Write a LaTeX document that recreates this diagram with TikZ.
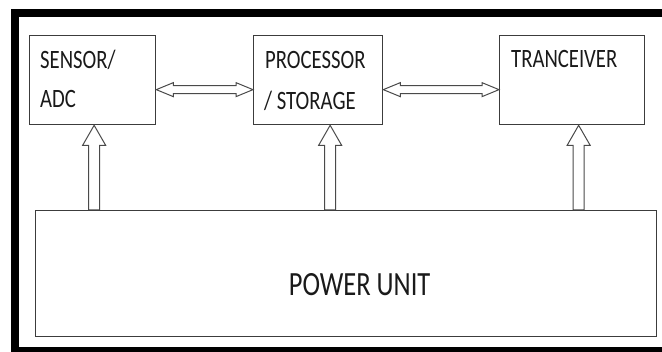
\documentclass[tikz,border=0pt]{standalone}
\usepackage{fontspec}
\setmainfont{Carlito}
\usetikzlibrary{calc}
\definecolor{boxgray}{HTML}{3C3C3C}
\definecolor{arrgray}{HTML}{4A4A4A}
\definecolor{txt}{HTML}{1A1A1A}
\newcommand{\vstr}[1]{\scalebox{1}[1.28]{#1}}
\begin{document}
\begin{tikzpicture}[x=1pt,y=-1pt,
  box/.style={draw=boxgray, line width=1.3pt, inner sep=0pt, anchor=north west},
  lbl/.style={text=txt, inner sep=0pt, anchor=base west, font=\fontsize{20.7}{24}\selectfont},
  bigl/.style={text=txt, inner sep=0pt, anchor=base, font=\fontsize{26.5}{30}\selectfont},
  hdbl/.style={draw=arrgray, line width=1pt, line join=miter, to path={
    (\tikztostart) -- ($(\tikztostart)+(17,-7)$) -- ($(\tikztostart)+(17,-4)$)
    -- ($(\tikztotarget)+(-17,-4)$) -- ($(\tikztotarget)+(-17,-7)$) -- (\tikztotarget)
    -- ($(\tikztotarget)+(-17,7)$) -- ($(\tikztotarget)+(-17,4)$)
    -- ($(\tikztostart)+(17,4)$) -- ($(\tikztostart)+(17,7)$) -- cycle}},
  vup/.style={draw=arrgray, line width=1pt, line join=miter, to path={
    (\tikztotarget) -- ($(\tikztotarget)+(11.5,20)$) -- ($(\tikztotarget)+(5.5,20)$)
    -- ($(\tikztostart)+(5.5,0)$) -- ($(\tikztostart)+(-5.5,0)$)
    -- ($(\tikztotarget)+(-5.5,20)$) -- ($(\tikztotarget)+(-11.5,20)$) -- cycle}}]
\useasboundingbox (0,0) rectangle (662,352);
\fill[white] (0,0) rectangle (662,352);
% outer frame
\begin{scope}
\clip (0,0) rectangle (662,352);
\draw[line width=8pt] (15,13) rectangle (672,351);
\end{scope}
% boxes
\node[box, minimum width=126pt, minimum height=89pt] (s) at (29,35) {};
\node[box, minimum width=129pt, minimum height=89pt] (p) at (253,35) {};
\node[box, minimum width=145pt, minimum height=89pt] (t) at (499,35) {};
\node[box, minimum width=621pt, minimum height=126pt] (pw) at (35,210) {};
% labels
\node[lbl] (s1) at (40,68.3) {\vstr{SENSOR/}};
\node[lbl] (s2) at (40,107.3) {\vstr{ADC}};
\node[lbl] (p1) at (265,68.3) {\vstr{PROCESSOR}};
\node[lbl] (p2) at (264,110) {\vstr{/ STORAGE}};
\node[lbl] (t1) at (511,67.3) {\vstr{TRANCEIVER}};
\node[bigl] (pwl) at (359.6,296) {\vstr{POWER UNIT}};
% horizontal double arrows
\draw[hdbl] ($(s.east)+(0,9.5)$) to ($(p.west)+(0,9.5)$);
\draw[hdbl] ($(p.east)+(0,9.5)$) to ($(t.west)+(0,9.5)$);
% arrow tips at the box bottoms
\coordinate (a1) at ($(s.south)+(1.5,0)$);
\coordinate (a2) at ($(p.south)+(12,0)$);
\coordinate (a3) at ($(t.south)+(6.5,0)$);
% vertical arrows from power unit
\draw[vup] (a1 |- pw.north) to (a1);
\draw[vup] (a2 |- pw.north) to (a2);
\draw[vup] (a3 |- pw.north) to (a3);
\end{tikzpicture}
\end{document}
